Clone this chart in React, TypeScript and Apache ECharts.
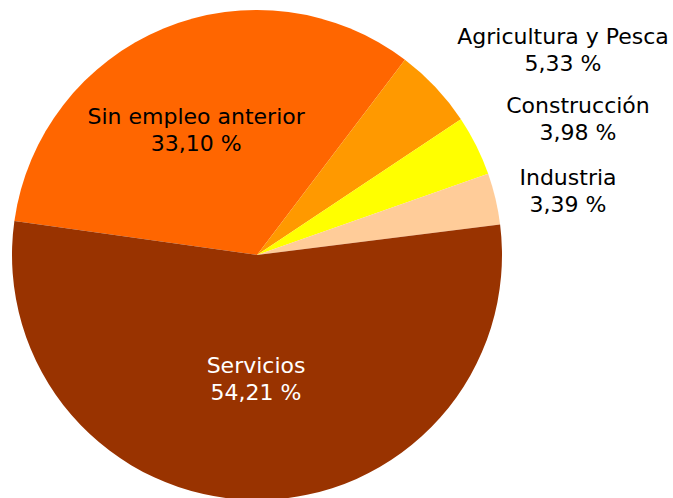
import React, { useEffect, useRef } from "react";
import * as echarts from "echarts";

const categories = ["Sin empleo anterior", "Agricultura y Pesca", "Construcción", "Industria", "Servicios"];
const values = [33.10, 5.33, 3.98, 3.39, 54.21];
const colors = ["#FF6600", "#FF9900", "#FFFF00", "#FFCC99", "#993300"];
const labelColors = ["#000000", "#000000", "#000000", "#000000", "#FFFFFF"];
const outsideLabelPos: Record<number, [number, number]> = {
  1: [563, 50],
  2: [578, 119],
  3: [568, 191],
};
const insideLabelShift: Record<number, [number, number]> = {
  0: [-13, -9],
  4: [0, -1],
};

const fmt = (v: number) => v.toFixed(2).replace(".", ",") + " %";

export default function App() {
  const ref = useRef<HTMLDivElement>(null);
  useEffect(() => {
    if (!ref.current) return;
    const chart = echarts.init(ref.current, undefined, { renderer: "svg" });
    chart.setOption({
      animation: false,
      backgroundColor: "#FFFFFF",
      series: [
        {
          type: "pie",
          center: [257, 255],
          radius: 245,
          startAngle: 172,
          clockwise: true,
          avoidLabelOverlap: false,
          itemStyle: { borderWidth: 0 },
          labelLine: { show: false },
          label: {
            fontFamily: "DejaVu Sans",
            fontSize: 22,
            lineHeight: 27,
            align: "center",
            formatter: (p: any) => `${p.name}\n${fmt(p.value)}`,
          },
          labelLayout: (p: any) => {
            const pos = outsideLabelPos[p.dataIndex];
            if (pos) return { x: pos[0], y: pos[1], align: "center", verticalAlign: "middle" };
            const s = insideLabelShift[p.dataIndex];
            if (s) return { dx: s[0], dy: s[1] };
            return {};
          },
          data: categories.map((name, i) => ({
            name,
            value: values[i],
            itemStyle: { color: colors[i] },
            label: {
              position: outsideLabelPos[i] ? "outside" : "inside",
              color: labelColors[i],
            },
            emphasis: { disabled: true },
          })),
        },
      ],
    });
    return () => chart.dispose();
  }, []);
  return (
    <div
      ref={ref}
      style={{ position: "fixed", left: 0, top: 0, width: 673, height: 498 }}
    />
  );
}
